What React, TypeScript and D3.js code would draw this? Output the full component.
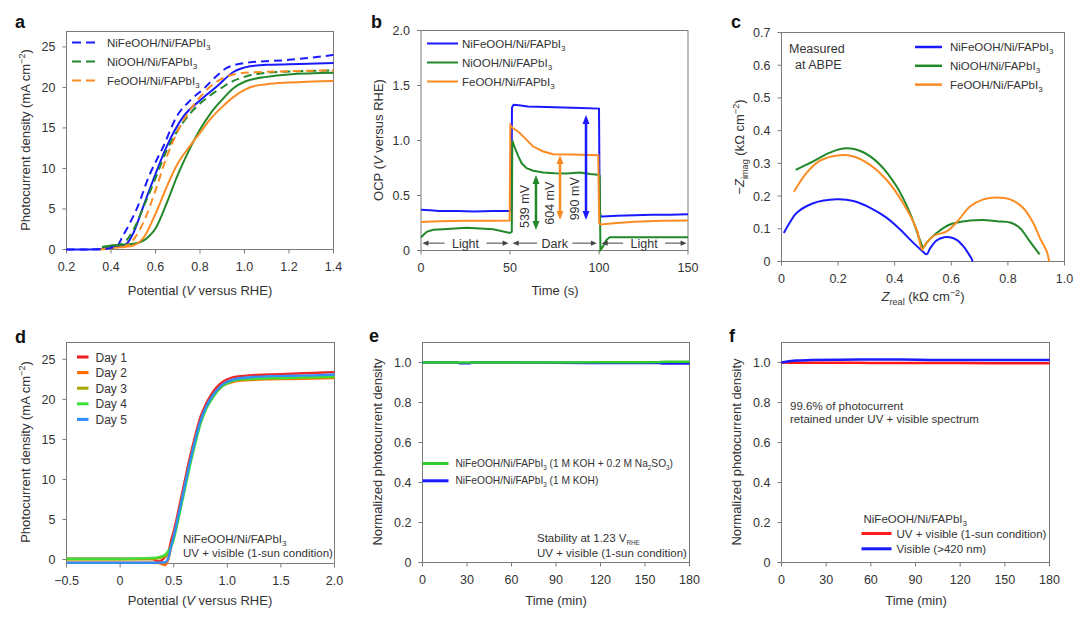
import React from 'react';
import * as d3 from 'd3';

type P = [number, number];

// ---------- Panel a: J–V curves ----------
const aSeriesNames = ['NiFeOOH/Ni/FAPbI_{3}', 'NiOOH/Ni/FAPbI_{3}', 'FeOOH/Ni/FAPbI_{3}'];
const aNiFeSolid: P[] = [[0.2,0],[0.3,0],[0.35,0.05],[0.4,0.3],[0.45,0.5],[0.47,0.7],[0.5,2.0],[0.545,5.3],[0.59,8.6],[0.65,12.7],[0.725,16.4],[0.8,18.4],[0.875,20.1],[0.95,21.9],[1.025,22.6],[1.1,22.8],[1.25,22.9],[1.4,23.0]];
const aNiFeDash: P[] = [[0.2,0],[0.35,0],[0.4,0.2],[0.43,0.5],[0.45,1.5],[0.48,3.0],[0.52,5.3],[0.57,9.0],[0.635,12.7],[0.695,16.4],[0.76,18.5],[0.815,19.8],[0.87,21.3],[0.92,22.4],[1.0,23.0],[1.2,23.4],[1.4,24.0]];
const aNiSolid: P[] = [[0.36,0.3],[0.4,0.5],[0.5,0.7],[0.54,1.0],[0.57,1.6],[0.6,2.6],[0.65,5.7],[0.7,9.2],[0.75,12.2],[0.8,14.8],[0.85,16.9],[0.9,18.5],[0.95,19.9],[1.0,20.7],[1.1,21.3],[1.2,21.6],[1.4,21.8]];
const aNiDash: P[] = [[0.36,0.3],[0.45,0.7],[0.5,2.4],[0.55,5.5],[0.6,8.8],[0.65,12.2],[0.7,14.7],[0.75,16.6],[0.8,18.0],[0.85,19.1],[0.9,20.0],[0.95,20.8],[1.0,21.3],[1.1,21.8],[1.25,22.0],[1.4,22.1]];
const aFeSolid: P[] = [[0.35,0],[0.45,0.3],[0.5,0.5],[0.55,1.6],[0.6,4.4],[0.65,7.7],[0.7,10.6],[0.75,12.6],[0.8,14.4],[0.85,16.2],[0.9,17.6],[0.95,18.8],[1.0,19.7],[1.05,20.2],[1.1,20.4],[1.2,20.6],[1.4,20.8]];
const aFeDash: P[] = [[0.45,0.2],[0.5,1.2],[0.55,3.6],[0.6,7.3],[0.65,11.4],[0.7,14.6],[0.75,17.0],[0.8,18.8],[0.85,20.2],[0.9,21.1],[0.95,21.6],[1.0,21.8],[1.2,22.0],[1.4,22.1]];
const aXTicks = [0.2, 0.4, 0.6, 0.8, 1.0, 1.2, 1.4];
const aXLabels = ['0.2', '0.4', '0.6', '0.8', '1.0', '1.2', '1.4'];
const aYTicks = [0, 5, 10, 15, 20, 25];
const aYLabels = ['0', '5', '10', '15', '20', '25'];

// ---------- Panel b: OCP ----------
const bNiFe: P[] = [[0,0.37],[5,0.365],[10,0.36],[20,0.36],[30,0.355],[40,0.36],[50,0.36],[50.8,0.37],[51.1,1.3],[52,1.325],[55,1.32],[60,1.31],[70,1.305],[80,1.3],[90,1.295],[100,1.29],[100.4,0.35],[101,0.31],[102,0.31],[110,0.315],[120,0.32],[130,0.325],[140,0.325],[150,0.33]];
const bNi: P[] = [[0,0.12],[3.2,0.17],[6.9,0.188],[12.5,0.194],[25.6,0.206],[40.6,0.194],[50,0.16],[51,0.17],[51.3,1.0],[52.8,0.93],[54.7,0.855],[56.5,0.795],[59.3,0.749],[63,0.725],[68.7,0.709],[75,0.703],[81.8,0.7],[89.3,0.709],[95,0.695],[99.6,0.688],[100.4,0.68],[100.8,0.006],[102,0.03],[104.2,0.097],[106,0.12],[120,0.12],[150,0.12]];
const bFe: P[] = [[0,0.26],[10,0.265],[25,0.27],[40,0.27],[49.8,0.272],[50.2,1.14],[51.5,1.113],[53,1.1],[55.6,1.067],[59.3,1.006],[63,0.945],[68.7,0.9],[74.3,0.876],[85,0.873],[99.6,0.866],[100.1,0.25],[101,0.236],[110,0.25],[120,0.262],[135,0.27],[150,0.273]];
const bArrowT = [64.6, 78.1, 92.7];
const bArrowLow = [0.186, 0.277, 0.277];
const bArrowHigh = [0.686, 0.868, 1.232];
const bArrowLabels = ['539 mV', '604 mV', '990 mV'];
const bLabelT = [58.4, 72.1, 86.0];
const bLabelV = [0.4, 0.43, 0.47];
const bPhaseNames = ['Light', 'Dark', 'Light'];
const bPhaseStart = [0.8, 51.5, 101.5];
const bPhaseEnd = [49.2, 98.8, 149.2];
const bXTicks = [0, 50, 100, 150];
const bXLabels = ['0', '50', '100', '150'];
const bYTicks = [0, 0.5, 1.0, 1.5, 2.0];
const bYLabels = ['0', '0.5', '1.0', '1.5', '2.0'];

// ---------- Panel c: Nyquist ----------
const cNiFe: P[] = [[0.008,0.087],[0.03,0.12],[0.053,0.148],[0.112,0.178],[0.195,0.19],[0.254,0.185],[0.312,0.165],[0.371,0.134],[0.419,0.098],[0.466,0.057],[0.495,0.034],[0.513,0.022],[0.525,0.04],[0.548,0.064],[0.575,0.074],[0.595,0.074],[0.619,0.066],[0.643,0.046],[0.66,0.025],[0.672,0.008],[0.675,0]];
const cNi: P[] = [[0.05,0.28],[0.112,0.306],[0.171,0.333],[0.23,0.346],[0.289,0.334],[0.348,0.296],[0.407,0.229],[0.454,0.148],[0.489,0.066],[0.501,0.043],[0.513,0.058],[0.548,0.087],[0.595,0.113],[0.666,0.125],[0.713,0.127],[0.761,0.123],[0.808,0.119],[0.843,0.102],[0.877,0.062],[0.912,0.022]];
const cFe: P[] = [[0.044,0.213],[0.088,0.27],[0.136,0.308],[0.206,0.325],[0.254,0.321],[0.312,0.296],[0.371,0.25],[0.43,0.178],[0.478,0.097],[0.497,0.036],[0.507,0.05],[0.537,0.078],[0.584,0.092],[0.619,0.12],[0.666,0.168],[0.713,0.19],[0.761,0.196],[0.808,0.19],[0.855,0.163],[0.89,0.117],[0.914,0.07],[0.9375,0.03],[0.946,0]];
const cXTicks = [0, 0.2, 0.4, 0.6, 0.8, 1.0];
const cXLabels = ['0', '0.2', '0.4', '0.6', '0.8', '1.0'];
const cYTicks = [0, 0.1, 0.2, 0.3, 0.4, 0.5, 0.6, 0.7];
const cYLabels = ['0', '0.1', '0.2', '0.3', '0.4', '0.5', '0.6', '0.7'];

// ---------- Panel d: 5-day J–V ----------
const dPotential = [-0.5,0.0,0.3,0.36,0.42,0.45,0.48,0.5,0.55,0.6,0.65,0.7,0.75,0.8,0.85,0.9,0.95,1.0,1.05,1.1,1.2,1.4,1.6,1.8,2.0];
const dDay1 = [0.1,0.1,0.05,-0.25,0.3,0.9,2.6,3.5,6.5,9.6,12.7,15.4,17.8,19.4,20.6,21.5,22.1,22.5,22.75,22.85,23.0,23.1,23.2,23.3,23.4];
const dDay2 = [-0.4,-0.4,-0.4,-0.45,-0.7,0.0,1.8,2.8,5.8,8.9,12.0,14.8,17.2,18.9,20.0,20.9,21.6,21.95,22.15,22.3,22.4,22.5,22.55,22.6,22.65];
const dDay3 = [0.0,0.0,0.05,0.15,0.4,0.7,1.9,2.8,5.8,8.9,12.0,14.8,17.2,18.9,20.1,21.0,21.7,22.05,22.3,22.4,22.5,22.6,22.65,22.7,22.75];
const dDay4 = [0.1,0.1,0.2,0.3,0.6,1.1,1.7,2.5,5.4,8.5,11.6,14.4,16.9,18.7,19.9,20.9,21.6,22.0,22.3,22.45,22.55,22.65,22.7,22.8,22.85];
const dDay5 = [-0.4,-0.4,-0.4,-0.4,-0.35,0.2,1.9,2.9,5.9,9.0,12.1,14.9,17.3,19.0,20.2,21.1,21.8,22.2,22.45,22.6,22.75,22.9,22.95,23.0,23.1];
const dDayNames = ['Day 1', 'Day 2', 'Day 3', 'Day 4', 'Day 5'];
const dXTicks = [-0.5, 0, 0.5, 1.0, 1.5, 2.0];
const dXLabels = ['\u22120.5', '0', '0.5', '1.0', '1.5', '2.0'];

// ---------- Panel e: stability in two electrolytes ----------
const eSulfiteT = [0, 30, 60, 90, 120, 150, 160, 165, 180];
const eSulfiteV = [1.0, 1.0, 1.0, 1.0, 1.001, 1.001, 1.002, 1.004, 1.004];
const eKohT = [0, 24, 25, 32, 33, 60, 90, 112, 150, 160, 161, 180];
const eKohV = [1.0, 1.0, 0.996, 0.996, 1.0, 1.0, 0.999, 0.998, 0.998, 0.998, 0.995, 0.995];
const eLegend = ['NiFeOOH/Ni/FAPbI_{3} (1 M KOH + 0.2 M Na_{2}SO_{3})', 'NiFeOOH/Ni/FAPbI_{3} (1 M KOH)'];
const tXTicks = [0, 30, 60, 90, 120, 150, 180];
const tXLabels = ['0', '30', '60', '90', '120', '150', '180'];
const nYTicks = [0, 0.2, 0.4, 0.6, 0.8, 1.0];
const nYLabels = ['0', '0.2', '0.4', '0.6', '0.8', '1.0'];

// ---------- Panel f: stability under two spectra ----------
const fUvT = [0, 10, 30, 60, 90, 120, 150, 180];
const fUvV = [1.0, 0.999, 0.999, 0.998, 0.998, 0.997, 0.996, 0.996];
const fVisT = [0, 5, 10, 20, 40, 60, 80, 100, 120, 150, 180];
const fVisV = [1.0, 1.006, 1.01, 1.012, 1.014, 1.015, 1.015, 1.013, 1.012, 1.012, 1.012];
const fLegend = ['UV + visible (1-sun condition)', 'Visible (>420 nm)'];

// ---------- styling ----------
const FONT = "'Liberation Sans', Arial, Helvetica, sans-serif";
const TXT = '#333';
const AX = '#7a7a7a';
const BLUE = '#1a1aff';
const GREEN = '#23882a';
const ORANGE = '#fb8c23';
const DAY_COLORS = ['#ee1c1c', '#ff6a00', '#a6a600', '#3adf3a', '#2a8cff'];
const E_GREEN = '#2fcc2f';
const RED = '#ff1a1a';

type Box = { l: number; r: number; t: number; b: number };
const A: Box = { l: 66.5, r: 333.5, t: 31.5, b: 249.5 };
const B: Box = { l: 421, r: 688, t: 30.5, b: 250.5 };
const C: Box = { l: 781.5, r: 1064.5, t: 32.5, b: 261.5 };
const D: Box = { l: 66.5, r: 334.5, t: 342.5, b: 563.5 };
const E: Box = { l: 422.5, r: 689.5, t: 342.5, b: 562.5 };
const F: Box = { l: 781.5, r: 1049.5, t: 342.5, b: 562.5 };

type Seg = { t: string; sub?: boolean; sup?: boolean; it?: boolean };
function parse(s: string): Seg[] {
  const out: Seg[] = [];
  const re = /(_\{[^}]*\}|\^\{[^}]*\}|\*[^*]*\*)/g;
  let last = 0;
  let m: RegExpExecArray | null;
  while ((m = re.exec(s))) {
    if (m.index > last) out.push({ t: s.slice(last, m.index) });
    const tok = m[0];
    if (tok[0] === '_') out.push({ t: tok.slice(2, -1), sub: true });
    else if (tok[0] === '^') out.push({ t: tok.slice(2, -1), sup: true });
    else out.push({ t: tok.slice(1, -1), it: true });
    last = m.index + tok.length;
  }
  if (last < s.length) out.push({ t: s.slice(last) });
  return out;
}

function Rich({ x, y, s, size = 12, anchor = 'start', fill = TXT, rotate = 0, subScale = 0.7 }: any) {
  const segs = parse(s);
  let cur = 0;
  const kids = segs.map((g, i) => {
    const target = g.sub ? size * 0.3 : g.sup ? -size * 0.42 : 0;
    const dy = target - cur;
    cur = target;
    return (
      <tspan key={i} dy={dy} fontSize={g.sub || g.sup ? size * subScale : size} fontStyle={g.it ? 'italic' : undefined}>
        {g.t}
      </tspan>
    );
  });
  return (
    <text transform={`translate(${x},${y}) rotate(${rotate})`} textAnchor={anchor} fontSize={size} fill={fill} fontFamily={FONT}>
      {kids}
    </text>
  );
}

function Axes({ box, x, y, xt, xl, yt, yl }: any) {
  return (
    <g fontFamily={FONT}>
      <rect x={box.l} y={box.t} width={box.r - box.l} height={box.b - box.t} fill="none" stroke={AX} strokeWidth={1} />
      {xt.map((v: number, i: number) => (
        <g key={'x' + i}>
          <line x1={x(v)} x2={x(v)} y1={box.b} y2={box.b + 4} stroke={AX} />
          <text x={x(v)} y={box.b + 21} textAnchor="middle" fontSize={12.5} fill={TXT}>{xl[i]}</text>
        </g>
      ))}
      {yt.map((v: number, i: number) => (
        <g key={'y' + i}>
          <line x1={box.l - 4} x2={box.l} y1={y(v)} y2={y(v)} stroke={AX} />
          <text x={box.l - 11} y={y(v)} dy="0.36em" textAnchor="end" fontSize={12.5} fill={TXT}>{yl[i]}</text>
        </g>
      ))}
    </g>
  );
}

function Letter({ x, y, t }: any) {
  return <text x={x} y={y} fontSize={18} fontWeight={700} fontFamily={FONT} fill="#111">{t}</text>;
}

function VArrow({ x, y1, y2, color }: any) {
  // y1 = bottom pixel, y2 = top pixel
  const hw = 3.5, hl = 9;
  return (
    <g>
      <line x1={x} x2={x} y1={y1 - hl + 1} y2={y2 + hl - 1} stroke={color} strokeWidth={2.5} />
      <path d={`M${x},${y2} L${x - hw},${y2 + hl} L${x + hw},${y2 + hl} Z`} fill={color} />
      <path d={`M${x},${y1} L${x - hw},${y1 - hl} L${x + hw},${y1 - hl} Z`} fill={color} />
    </g>
  );
}

function PhaseArrow({ x1, x2, y, label }: any) {
  const mid = (x1 + x2) / 2;
  const half = label.length * 3.4 + 4;
  const hl = 6, hw = 2.6;
  const c = '#444';
  return (
    <g>
      <line x1={x1 + hl - 1} x2={mid - half} y1={y} y2={y} stroke={c} strokeWidth={1} />
      <line x1={mid + half} x2={x2 - hl + 1} y1={y} y2={y} stroke={c} strokeWidth={1} />
      <path d={`M${x1},${y} L${x1 + hl},${y - hw} L${x1 + hl},${y + hw} Z`} fill={c} />
      <path d={`M${x2},${y} L${x2 - hl},${y - hw} L${x2 - hl},${y + hw} Z`} fill={c} />
      <text x={mid} y={y} dy="0.36em" textAnchor="middle" fontSize={12.5} fill={TXT} fontFamily={FONT}>{label}</text>
    </g>
  );
}

export default function App() {
  // scales
  const xa = d3.scaleLinear().domain([0.2, 1.4]).range([A.l, A.r]);
  const ya = d3.scaleLinear().domain([0, 26.9]).range([A.b, A.t]);
  const xb = d3.scaleLinear().domain([0, 150]).range([B.l, B.r]);
  const yb = d3.scaleLinear().domain([0, 2]).range([B.b, B.t]);
  const xc = d3.scaleLinear().domain([0, 1]).range([C.l, C.r]);
  const yc = d3.scaleLinear().domain([0, 0.7]).range([C.b, C.t]);
  const xd = d3.scaleLinear().domain([-0.5, 2]).range([D.l, D.r]);
  const yd = d3.scaleLinear().domain([-0.5, 27.1]).range([D.b, D.t]);
  const xe = d3.scaleLinear().domain([0, 180]).range([E.l, E.r]);
  const ye = d3.scaleLinear().domain([0, 1.1]).range([E.b, E.t]);
  const xf = d3.scaleLinear().domain([0, 180]).range([F.l, F.r]);
  const yf = d3.scaleLinear().domain([0, 1.1]).range([F.b, F.t]);

  const mk = (xs: any, ys: any, curve: any) => d3.line<P>().x((d) => xs(d[0])).y((d) => ys(d[1])).curve(curve);
  const la = mk(xa, ya, d3.curveMonotoneX);
  const lb = mk(xb, yb, d3.curveLinear);
  const lc = mk(xc, yc, d3.curveCatmullRom.alpha(0.5));
  const ld = mk(xd, yd, d3.curveMonotoneX);
  const le = mk(xe, ye, d3.curveLinear);
  const lf = mk(xf, yf, d3.curveMonotoneX);

  const zip = (a: number[], b: number[]): P[] => a.map((v, i) => [v, b[i]] as P);

  const aSolid = [aNiFeSolid, aNiSolid, aFeSolid];
  const aDash = [aNiFeDash, aNiDash, aFeDash];
  const trio = [BLUE, GREEN, ORANGE];
  const dDays = [dDay1, dDay2, dDay3, dDay4, dDay5];

  return (
    <svg width={1080} height={622} style={{ position: 'absolute', left: 0, top: 0, background: '#fff' }} fontFamily={FONT}>
      <rect x={0} y={0} width={1080} height={622} fill="#fff" />

      {/* ---------------- a ---------------- */}
      <Letter x={15} y={28} t="a" />
      <Axes box={A} x={xa} y={ya} xt={aXTicks} xl={aXLabels} yt={aYTicks} yl={aYLabels} />
      {aSolid.map((s, i) => (
        <path key={'as' + i} d={la(s) || ''} fill="none" stroke={trio[i]} strokeWidth={2} />
      ))}
      {aDash.map((s, i) => (
        <path key={'ad' + i} d={la(s) || ''} fill="none" stroke={trio[i]} strokeWidth={2} strokeDasharray="8 5" />
      ))}
      {aSeriesNames.map((n, i) => (
        <g key={'al' + i}>
          <line x1={72} x2={100} y1={42.5 + i * 19} y2={42.5 + i * 19} stroke={trio[i]} strokeWidth={2} strokeDasharray="9 5" />
          <Rich x={107} y={46.5 + i * 19} s={n} size={11.5} />
        </g>
      ))}
      <Rich x={200} y={295} s={'Potential (*V* versus RHE)'} size={13} anchor="middle" />
      <Rich x={30} y={140} s={'Photocurrent density (mA cm^{\u22122})'} size={13} anchor="middle" rotate={-90} />

      {/* ---------------- b ---------------- */}
      <Letter x={371} y={28} t="b" />
      <Axes box={B} x={xb} y={yb} xt={bXTicks} xl={bXLabels} yt={bYTicks} yl={bYLabels} />
      {[bNiFe, bNi, bFe].map((s, i) => (
        <path key={'b' + i} d={lb(s) || ''} fill="none" stroke={trio[i]} strokeWidth={2} />
      ))}
      {bArrowT.map((t, i) => (
        <VArrow key={'ba' + i} x={xb(t)} y1={yb(bArrowLow[i])} y2={yb(bArrowHigh[i])} color={[GREEN, ORANGE, BLUE][i]} />
      ))}
      {bArrowLabels.map((s, i) => (
        <text key={'bl' + i} transform={`translate(${xb(bLabelT[i])},${yb(bLabelV[i])}) rotate(-90)`} textAnchor="middle" dy="0.36em" fontSize={12.5} fill={TXT}>{s}</text>
      ))}
      {bPhaseNames.map((n, i) => (
        <PhaseArrow key={'bp' + i} x1={xb(bPhaseStart[i])} x2={xb(bPhaseEnd[i])} y={yb(0.067)} label={n} />
      ))}
      {aSeriesNames.map((n, i) => (
        <g key={'bleg' + i}>
          <line x1={427} x2={458} y1={43.5 + i * 19} y2={43.5 + i * 19} stroke={trio[i]} strokeWidth={2} />
          <Rich x={462} y={47.5 + i * 19} s={n} size={11.5} />
        </g>
      ))}
      <Rich x={555} y={295} s={'Time (s)'} size={13} anchor="middle" />
      <Rich x={383} y={140} s={'OCP (*V* versus RHE)'} size={13} anchor="middle" rotate={-90} />

      {/* ---------------- c ---------------- */}
      <Letter x={731} y={28} t="c" />
      <Axes box={C} x={xc} y={yc} xt={cXTicks} xl={cXLabels} yt={cYTicks} yl={cYLabels} />
      {[cNiFe, cNi, cFe].map((s, i) => (
        <path key={'c' + i} d={lc(s) || ''} fill="none" stroke={trio[i]} strokeWidth={2} />
      ))}
      {aSeriesNames.map((n, i) => (
        <g key={'cl' + i}>
          <line x1={915} x2={942} y1={47 + i * 18.8} y2={47 + i * 18.8} stroke={trio[i]} strokeWidth={2.5} />
          <Rich x={950} y={51 + i * 18.8} s={n} size={11.5} />
        </g>
      ))}
      <text x={789} y={53} fontSize={12.5} fill={TXT}>Measured</text>
      <text x={795} y={69} fontSize={12.5} fill={TXT}>at ABPE</text>
      <Rich x={923} y={301} s={'*Z*_{real} (k\u03a9 cm^{\u22122})'} size={13} anchor="middle" />
      <Rich x={744} y={147} s={'\u2212*Z*_{imag} (k\u03a9 cm^{\u22122})'} size={13} anchor="middle" rotate={-90} />

      {/* ---------------- d ---------------- */}
      <Letter x={15} y={343} t="d" />
      <Axes box={D} x={xd} y={yd} xt={dXTicks} xl={dXLabels} yt={aYTicks} yl={aYLabels} />
      {dDays.map((arr, i) => (
        <path key={'d' + i} d={ld(zip(dPotential, arr)) || ''} fill="none" stroke={DAY_COLORS[i]} strokeWidth={2.4} strokeOpacity={0.95} />
      ))}
      {dDayNames.map((n, i) => (
        <g key={'dl' + i}>
          <line x1={77} x2={88.5} y1={357 + i * 15.6} y2={357 + i * 15.6} stroke={DAY_COLORS[i]} strokeWidth={3} />
          <text x={95.5} y={361.5 + i * 15.6} fontSize={12} fill={TXT}>{n}</text>
        </g>
      ))}
      <Rich x={183} y={543} s={'NiFeOOH/Ni/FAPbI_{3}'} size={11.5} />
      <Rich x={183} y={556.5} s={'UV + visible (1-sun condition)'} size={11.5} />
      <Rich x={200} y={605} s={'Potential (*V* versus RHE)'} size={13} anchor="middle" />
      <Rich x={30} y={452} s={'Photocurrent density (mA cm^{\u22122})'} size={13} anchor="middle" rotate={-90} />

      {/* ---------------- e ---------------- */}
      <Letter x={369} y={342} t="e" />
      <Axes box={E} x={xe} y={ye} xt={tXTicks} xl={tXLabels} yt={nYTicks} yl={nYLabels} />
      <path d={le(zip(eKohT, eKohV)) || ''} fill="none" stroke={BLUE} strokeWidth={2.5} />
      <path d={le(zip(eSulfiteT, eSulfiteV)) || ''} fill="none" stroke={E_GREEN} strokeWidth={2.5} />
      {eLegend.map((n, i) => (
        <g key={'el' + i}>
          <line x1={E.l} x2={448.5} y1={463.5 + i * 17.3} y2={463.5 + i * 17.3} stroke={[E_GREEN, BLUE][i]} strokeWidth={3} />
          <Rich x={455.5} y={467 + i * 17.3} s={n} size={10.2} subScale={0.62} />
        </g>
      ))}
      <Rich x={537} y={542} s={'Stability at 1.23 V_{RHE}'} size={11.5} subScale={0.55} />
      <Rich x={537} y={556.5} s={'UV + visible (1-sun condition)'} size={11.5} />
      <Rich x={556} y={605} s={'Time (min)'} size={13} anchor="middle" />
      <Rich x={382} y={452} s={'Normalized photocurrent density'} size={13} anchor="middle" rotate={-90} />

      {/* ---------------- f ---------------- */}
      <Letter x={729} y={342} t="f" />
      <Axes box={F} x={xf} y={yf} xt={tXTicks} xl={tXLabels} yt={nYTicks} yl={nYLabels} />
      <path d={lf(zip(fUvT, fUvV)) || ''} fill="none" stroke={RED} strokeWidth={2.5} />
      <path d={lf(zip(fVisT, fVisV)) || ''} fill="none" stroke={BLUE} strokeWidth={2.5} />
      <text x={790} y={409.5} fontSize={11.5} fill={TXT}>99.6% of photocurrent</text>
      <text x={790} y={423} fontSize={11.5} fill={TXT}>retained under UV + visible spectrum</text>
      <Rich x={863.5} y={522.5} s={'NiFeOOH/Ni/FAPbI_{3}'} size={11.5} />
      {fLegend.map((n, i) => (
        <g key={'fl' + i}>
          <line x1={861.5} x2={891.5} y1={533.5 + i * 15.3} y2={533.5 + i * 15.3} stroke={[RED, BLUE][i]} strokeWidth={3} />
          <text x={896.5} y={537.5 + i * 15.3} fontSize={11.5} fill={TXT}>{n}</text>
        </g>
      ))}
      <Rich x={916} y={605} s={'Time (min)'} size={13} anchor="middle" />
      <Rich x={741} y={452} s={'Normalized photocurrent density'} size={13} anchor="middle" rotate={-90} />
    </svg>
  );
}
